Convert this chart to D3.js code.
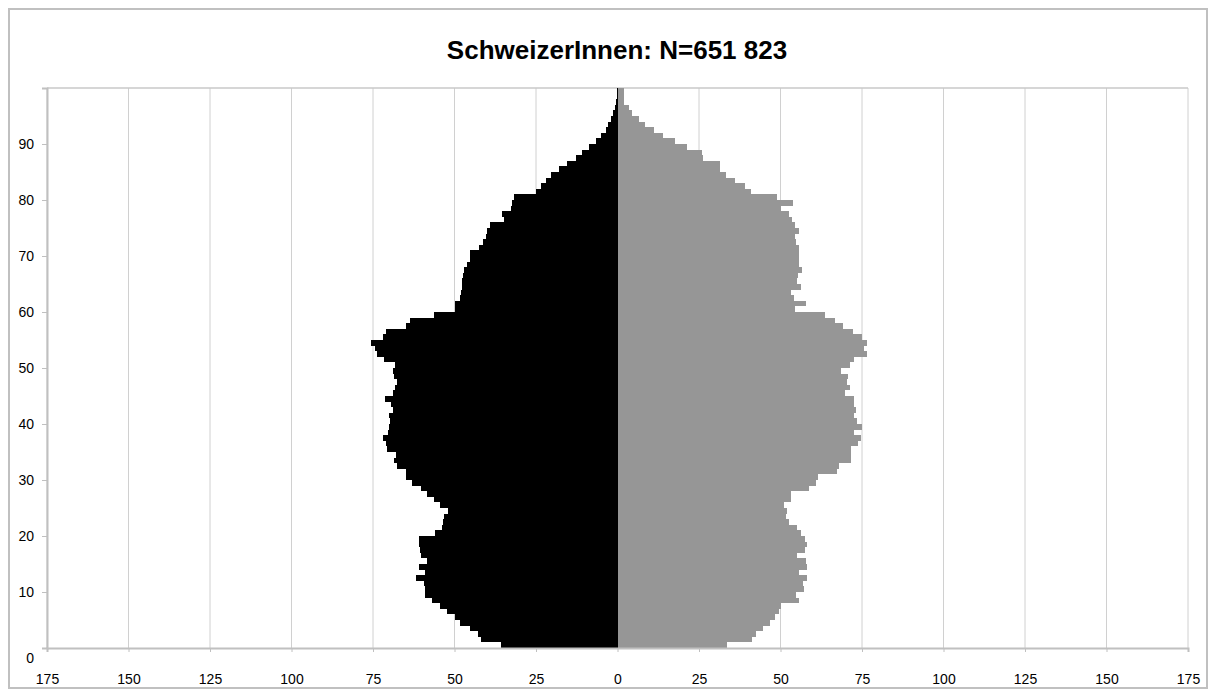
<!DOCTYPE html>
<html>
<meta charset="utf-8">
<script src="https://d3js.org/d3.v7.min.js"></script>
<style>
    body { margin: 0; background: #fff; }
    text { font-family: "Liberation Sans", Arial, sans-serif; }
</style>
<body>
<div id="chart"></div>
<script>

// ages 0..99, one bar per year
var ages = d3.range(0, 100);

// men (left, black)
var men = [
    35.7, 41.8, 42.9, 45.1, 48.2, 49.7, 52.2, 54.6, 56.8, 58.9,
    59.2, 59.4, 61.9, 58.9, 60.9, 58.4, 60.4, 60.6, 60.9, 60.9,
    56.1, 53.8, 53.6, 53.3, 52.0, 54.6, 56.3, 58.4, 60.4, 63.0,
    65.0, 65.0, 67.6, 68.6, 67.8, 70.8, 71.1, 71.8, 70.4, 70.1,
    69.8, 70.1, 68.9, 69.6, 71.4, 68.8, 68.3, 67.6, 68.6, 68.9,
    68.1, 71.6, 73.7, 74.5, 75.7, 72.0, 71.1, 65.0, 63.7, 56.3,
    49.7, 49.7, 48.4, 48.0, 47.8, 47.6, 47.3, 47.1, 46.3, 45.3,
    45.1, 42.6, 41.2, 40.2, 40.0, 39.0, 34.7, 35.4, 32.7, 32.3,
    31.6, 25.0, 23.5, 22.0, 20.5, 18.0, 15.5, 12.8, 10.8, 8.6,
    6.5, 5.0, 3.6, 2.8, 2.0, 1.3, 0.8, 0.5, 0.3, 0.2
];

// women (right, grey)
var women = [
    33.7, 41.3, 42.6, 44.6, 46.9, 48.2, 49.5, 50.0, 55.6, 54.8,
    57.1, 56.8, 58.2, 55.8, 58.2, 57.9, 55.1, 57.4, 58.2, 57.4,
    56.3, 55.1, 52.6, 51.7, 52.0, 51.0, 53.3, 53.3, 58.7, 60.9,
    61.4, 67.3, 67.9, 71.7, 71.7, 71.7, 73.8, 74.6, 72.4, 75.0,
    73.5, 72.4, 73.2, 72.4, 72.4, 69.9, 71.4, 70.4, 70.7, 68.7,
    71.4, 72.4, 76.5, 75.5, 76.5, 75.0, 72.1, 69.1, 66.6, 63.8,
    54.4, 57.9, 54.1, 53.3, 56.3, 55.1, 55.3, 56.6, 55.8, 55.8,
    55.6, 55.6, 54.8, 54.4, 55.6, 54.4, 53.4, 52.6, 50.1, 53.8,
    48.9, 41.1, 39.1, 36.0, 33.4, 31.3, 31.3, 26.2, 25.8, 21.3,
    17.7, 14.0, 11.2, 8.5, 6.6, 4.6, 3.6, 2.0, 2.0, 2.0
];

// tick values
var xTicks = d3.range(-175, 176, 25);
var yTicks = d3.range(0, 101, 10);

var title = "SchweizerInnen: N=651 823";

// page and plot area
var W = 1216, H = 691;
var margin = {top: 88, right: 28, bottom: 43, left: 47},
    width = W - margin.left - margin.right,
    height = H - margin.top - margin.bottom;

var svg = d3.select("#chart")
    .append("svg")
        .attr("width", W)
        .attr("height", H);

// outer frame
svg.append("rect")
    .attr("x", 9).attr("y", 9)
    .attr("width", 1198).attr("height", 679)
    .attr("fill", "none")
    .attr("stroke", "#c0c0c0")
    .attr("stroke-width", 2);

// title
svg.append("text")
    .attr("x", 617)
    .attr("y", 59)
    .attr("text-anchor", "middle")
    .style("font-size", "26px")
    .style("font-weight", "bold")
    .text(title);

var g = svg.append("g")
    .attr("transform", "translate(" + margin.left + "," + margin.top + ")");

//----------//
//  Scales  //
//----------//
var x = d3.scaleLinear()
    .domain([-175, 175])
    .range([0, width]);

var y = d3.scaleLinear()
    .domain([0, 100])
    .range([height, 0]);

// vertical grid lines
g.append("g")
    .selectAll("line")
    .data(xTicks)
    .enter()
    .append("line")
        .attr("x1", function(d){ return x(d); })
        .attr("x2", function(d){ return x(d); })
        .attr("y1", 0)
        .attr("y2", height)
        .attr("stroke", "#d0d0d0")
        .attr("stroke-width", 1);

// top border of plot
g.append("line")
    .attr("x1", 0).attr("x2", width)
    .attr("y1", 0).attr("y2", 0)
    .attr("stroke", "#c8c8c8")
    .attr("stroke-width", 1.5);

//---------//
//  Bars   //
//---------//
g.append("g")
    .selectAll("rect")
    .data(ages)
    .enter()
    .append("rect")
        .attr("x", function(d){ return x(-men[d]); })
        .attr("y", function(d){ return y(d + 1); })
        .attr("width", function(d){ return x(0) - x(-men[d]); })
        .attr("height", function(d){ return y(d) - y(d + 1); })
        .attr("fill", "#000")
        .attr("shape-rendering", "crispEdges");

g.append("g")
    .selectAll("rect")
    .data(ages)
    .enter()
    .append("rect")
        .attr("x", x(0))
        .attr("y", function(d){ return y(d + 1); })
        .attr("width", function(d){ return x(women[d]) - x(0); })
        .attr("height", function(d){ return y(d) - y(d + 1); })
        .attr("fill", "#969696")
        .attr("shape-rendering", "crispEdges");

//---------//
//  Axes   //
//---------//
var xAxis = g.append("g")
    .attr("transform", "translate(0," + height + ")")
    .call(d3.axisBottom(x)
        .tickValues(xTicks)
        .tickSize(4)
        .tickPadding(22)
        .tickFormat(function(d){ return Math.abs(d); }));

var yAxis = g.append("g")
    .call(d3.axisLeft(y)
        .tickValues(yTicks)
        .tickSize(5)
        .tickPadding(8)
        .tickFormat(function(d){ return d === 100 ? "" : d; }));

// the 0 label sits under the axis line
yAxis.selectAll(".tick text")
    .filter(function(d){ return d === 0; })
    .attr("dy", "1.05em");

[xAxis, yAxis].forEach(function(a){
    a.select(".domain")
        .attr("stroke", "#c0c0c0")
        .attr("stroke-width", 2);
    a.selectAll(".tick line")
        .attr("stroke", "#c0c0c0");
    a.selectAll(".tick text")
        .attr("fill", "#000")
        .style("font-size", "14px")
        .style("font-family", "'Liberation Sans', Arial, sans-serif");
});

</script>
</body>
</html>
